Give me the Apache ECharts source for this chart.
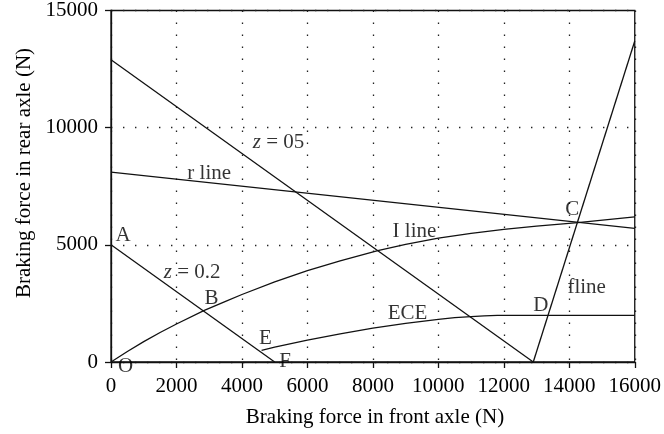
<!DOCTYPE html>
<html>
<head>
<meta charset="utf-8">
<script src="https://cdn.jsdelivr.net/npm/echarts@6/dist/echarts.min.js"></script>
<style>
  html, body { margin: 0; padding: 0; background: #fff; }
  #chart { width: 664px; height: 434px; }
</style>
</head>
<body>
<div id="chart"></div>
<script>
// Braking force distribution: front axle (x) vs rear axle (y), in N
const xMin = 0, xMax = 16000, xStep = 2000;
const yMin = 0, yMax = 15000, yStep = 5000;

// Straight lines (end points)
const zHalfLine = [[0, 12900], [12900, 0]];        // z = 0.5
const zLowLine = [[0, 5000], [5000, 0]];           // z = 0.2
const rLine = [[0, 8100], [16000, 5700]];          // r line
const fLine = [[12900, 0], [16000, 13700]];        // f line

// Ideal distribution curve (I line)
const iLineFront = [0, 500, 1000, 1500, 2000, 2850, 3500, 4000, 5000, 6000, 7000, 8150, 9000, 10000, 11000, 12000, 13000, 14260, 16000];
const iLineRear  = [0, 450, 870, 1260, 1620, 2200, 2590, 2880, 3420, 3900, 4320, 4750, 5020, 5290, 5490, 5660, 5800, 5950, 6190];

// ECE regulation limit
const eceFront = [4600, 5000, 6000, 7000, 8000, 9000, 10000, 10500, 11000, 11400, 11800, 16000];
const eceRear  = [500, 630, 930, 1200, 1450, 1650, 1820, 1890, 1940, 1970, 1990, 1990];

// Text annotations: [front, rear, text]
const notes = [
  [5120, 9360, '{i|z} = 05'],
  [3000, 8050, 'r line'],
  [9270, 5590, 'I line'],
  [9060, 2050, 'ECE'],
  [2480, 3820, '{i|z} = 0.2'],
  [14530, 3190, 'fline'],
  [370, 5410, 'A'],
  [3070, 2725, 'B'],
  [14090, 6510, 'C'],
  [13130, 2415, 'D'],
  [4720, 1000, 'E'],
  [5320, 10, 'F'],
  [445, -200, 'O']
];

const FONT = '"Liberation Serif", "DejaVu Serif", serif';
const FS = 21;
const INK = '#111';

const pair = (xs, ys) => xs.map((x, i) => [x, ys[i]]);

function lineSeries(data) {
  return {
    type: 'line',
    data: data,
    symbol: 'none',
    smooth: false,
    clip: false,
    lineStyle: { color: INK, width: 1.3 },
    silent: true,
    animation: false
  };
}

const chart = echarts.init(document.getElementById('chart'), null, { renderer: 'canvas' });

chart.setOption({
  animation: false,
  grid: {
    left: 111, right: 25, top: 8, bottom: 72,
    show: true, borderColor: INK, borderWidth: 1.3, backgroundColor: 'transparent'
  },
  xAxis: {
    type: 'value', min: xMin, max: xMax, interval: xStep,
    axisLine: { show: true, onZero: false, lineStyle: { color: INK, width: 1.3 } },
    axisTick: { show: true, inside: false, length: 6, lineStyle: { color: INK, width: 1.3 } },
    axisLabel: { color: '#000', fontFamily: FONT, fontSize: FS, margin: 14, formatter: v => String(v) },
    splitLine: { show: true, lineStyle: { color: '#222', width: 1.3, type: [1.4, 10.6] } }
  },
  yAxis: {
    type: 'value', min: yMin, max: yMax, interval: yStep,
    axisLine: { show: true, onZero: false, lineStyle: { color: INK, width: 1.3 } },
    axisTick: { show: true, inside: false, length: 6, lineStyle: { color: INK, width: 1.3 } },
    axisLabel: { color: '#000', fontFamily: FONT, fontSize: FS, margin: 13, formatter: v => String(v) },
    splitLine: { show: true, lineStyle: { color: '#222', width: 1.3, type: [1.4, 10.6] } }
  },
  graphic: [
    {
      type: 'text', x: 24, y: 173, rotation: Math.PI / 2,
      style: {
        text: 'Braking force in rear axle (N)', fill: '#000',
        font: FS + 'px ' + FONT, textAlign: 'center', textVerticalAlign: 'middle'
      }
    },
    {
      type: 'text', x: 375, y: 417,
      style: {
        text: 'Braking force in front axle (N)', fill: '#000',
        font: FS + 'px ' + FONT, textAlign: 'center', textVerticalAlign: 'middle'
      }
    }
  ],
  series: [
    lineSeries(zHalfLine),
    lineSeries(zLowLine),
    lineSeries(rLine),
    lineSeries(fLine),
    lineSeries(pair(iLineFront, iLineRear)),
    lineSeries(pair(eceFront, eceRear)),
    {
      type: 'scatter',
      data: notes.map(n => ({ value: [n[0], n[1]], label: { formatter: n[2] } })),
      symbolSize: 0,
      clip: false,
      silent: true,
      label: {
        show: true, position: 'inside', color: '#000',
        fontFamily: FONT, fontSize: FS,
        rich: { i: { fontStyle: 'italic', fontFamily: FONT, fontSize: FS, color: '#000' } }
      }
    }
  ]
});
</script>
</body>
</html>
